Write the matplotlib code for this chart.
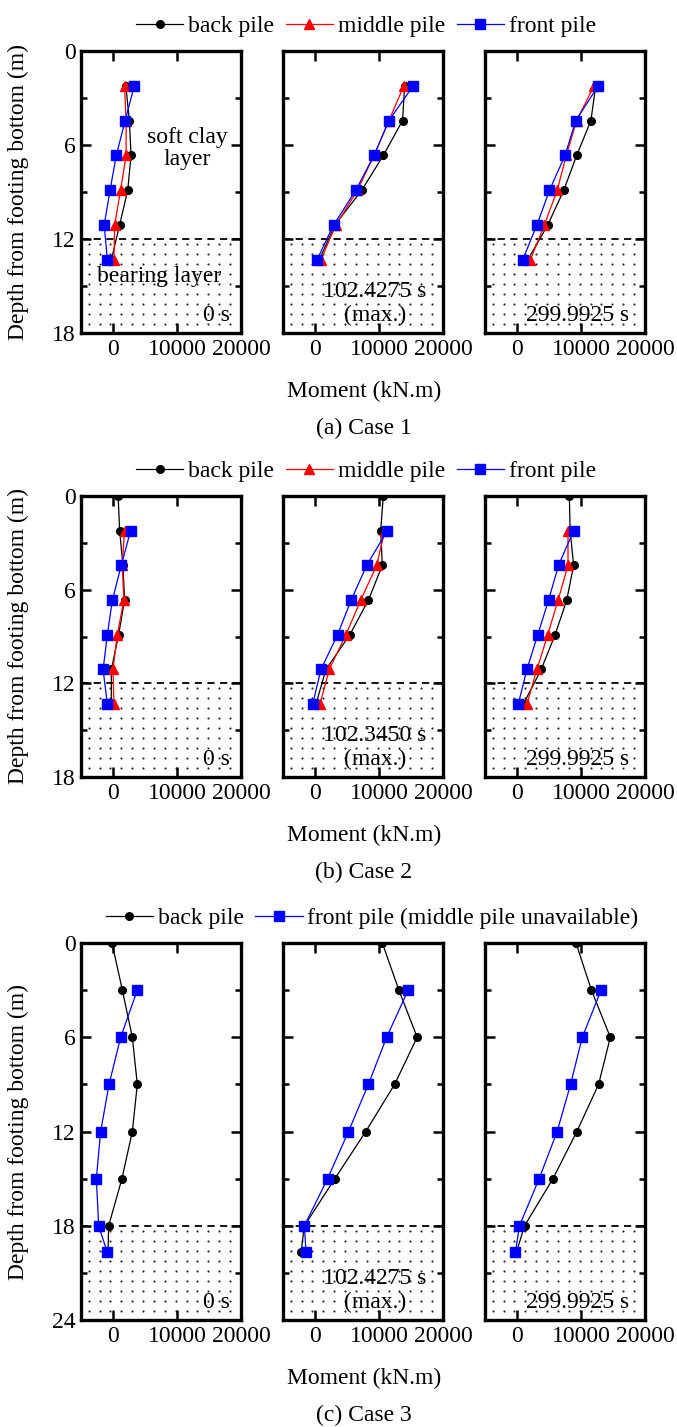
import numpy as np
import matplotlib
matplotlib.use("Agg")
import matplotlib.pyplot as plt
from matplotlib.ticker import MultipleLocator

plt.rcParams["font.family"] = "Liberation Serif"

nan = np.nan

# depths of the gauges along the piles (m)
depth_12 = [0, 2.22, 4.44, 6.67, 8.89, 11.11, 13.33]
depth_3 = [0, 3, 6, 9, 12, 15, 18, 19.7]

times_1 = ["0 s", "102.4275 s\n(max.)", "299.9925 s"]
times_2 = ["0 s", "102.3450 s\n(max.)", "299.9925 s"]
times_3 = ["0 s", "102.4275 s\n(max.)", "299.9925 s"]

# bending moment (kN.m), one row per time instant
c1_back = [[nan, 2000, 2560, 2820, 2300, 1030, -260],
           [nan, 14000, 13680, 10670, 7300, 3100, 670],
           [nan, 12300, 11550, 9320, 7300, 4800, 1690]]
c1_middle = [[nan, 1800, 2050, 2050, 1180, 260, 150],
             [nan, 13890, 11550, 9220, 6630, 3260, 930],
             [nan, 12030, 9320, 7700, 6280, 4260, 2100]]
c1_front = [[nan, 3330, 1900, 510, -460, -1380, -870],
            [nan, 15340, 11550, 9220, 6370, 2900, 310],
            [nan, 12700, 9190, 7500, 5070, 3110, 880]]

c2_back = [[800, 1040, 1550, 1810, 880, -260, -260],
           [10670, 10260, 10520, 8340, 5440, 1710, 150],
           [8180, 8300, 8850, 7770, 5950, 3780, 1000]]
c2_middle = [[nan, 1800, 1450, 1700, 670, 0, 150],
             [nan, 10900, 9640, 7150, 4820, 2230, 780],
             [nan, 7970, 7970, 6420, 4800, 3110, 1550]]
c2_front = [[nan, 2750, 1300, -100, -880, -1550, -880],
            [nan, 11300, 8080, 5650, 3520, 930, -360],
            [nan, 8850, 6490, 4930, 3240, 1550, 200]]

c3_back = [[-160, 1460, 3020, 3800, 3020, 1400, -680, -780],
           [10520, 13110, 15960, 12440, 7930, 3110, -1660, -2180],
           [9220, 11630, 14580, 12750, 9350, 5620, 1180, -100]]
c3_front = [[nan, 3800, 1200, -620, -1930, -2600, -2240, -890],
            [nan, 14560, 11190, 8340, 5230, 1970, -1660, -1400],
            [nan, 13140, 10200, 8370, 6270, 3460, 390, -260]]

W, H = 677, 1427
FS = 17
fig = plt.figure(figsize=(W / 100, H / 100), dpi=100)


def px_axes(left, top, width, height):
    return fig.add_axes([left / W, 1 - (top + height) / H, width / W, height / H])


def stipple(ax, y0, y1, height_px):
    """Dot pattern for the bearing layer, roughly 11 x 10 px spacing."""
    m_per_px = y1 / height_px
    xs = np.arange(-3800, 20000, 1700)
    ys = np.arange(y0 + 5 * m_per_px, y1, 10 * m_per_px)
    gx, gy = np.meshgrid(xs, ys)
    ax.scatter(gx.ravel(), gy.ravel(), s=2.4, color="0.15", linewidths=0,
               zorder=0)


styles = {
    "back": dict(color="black", marker="o", markersize=5.5, lw=0.9),
    "middle": dict(color="red", marker="^", markersize=6.5, lw=0.9),
    "front": dict(color="blue", marker="s", markersize=7, lw=0.9),
}
labels = {"back": "back pile", "middle": "middle pile", "front": "front pile"}

cases = [
    dict(top=51, height=282, ymax=18, soil=12, depth=depth_12, times=times_1,
         series={"back": c1_back, "middle": c1_middle, "front": c1_front},
         caption="(a) Case 1", legend_x=366),
    dict(top=496, height=281, ymax=18, soil=12, depth=depth_12, times=times_2,
         series={"back": c2_back, "middle": c2_middle, "front": c2_front},
         caption="(b) Case 2", legend_x=366),
    dict(top=943, height=377, ymax=24, soil=18, depth=depth_3, times=times_3,
         series={"back": c3_back, "front": c3_front},
         caption="(c) Case 3", legend_x=372),
]
lefts = [81, 283, 485]
panel_w = 160

for ci, case in enumerate(cases):
    handles = []
    for pi, left in enumerate(lefts):
        ax = px_axes(left, case["top"], panel_w, case["height"])
        ax.set_xlim(-5000, 20000)
        ax.set_ylim(case["ymax"], 0)

        # bearing layer: stippled zone below the dashed boundary
        stipple(ax, case["soil"], case["ymax"], case["height"])
        ax.axhline(case["soil"], color="black", ls=(0, (4, 3)), lw=1.3, zorder=1)

        for name, values in case["series"].items():
            ln, = ax.plot(values[pi], case["depth"], label=labels[name],
                          zorder=3, **styles[name])
            if pi == 0:
                handles.append(ln)

        ax.set_xticks([0, 10000, 20000])
        ax.yaxis.set_major_locator(MultipleLocator(6))
        ax.yaxis.set_minor_locator(MultipleLocator(3))
        ax.tick_params(which="both", direction="in", top=True, right=True,
                       width=1.8, labelsize=FS, pad=4)
        ax.tick_params(which="major", length=7)
        ax.tick_params(which="minor", length=4)
        ax.tick_params(axis="x", which="minor", length=0)
        if pi > 0:
            ax.tick_params(labelleft=False)
        for sp in ax.spines.values():
            sp.set_linewidth(2.4)

        # time stamp of the snapshot
        t_text = case["times"][pi]
        if pi == 0:
            ax.annotate(t_text, xy=(18300, 0), xycoords=("data", "axes fraction"),
                        xytext=(0, 7), textcoords="offset pixels",
                        ha="right", va="bottom", fontsize=FS)
        else:
            ax.annotate(t_text, xy=(9400, 0), xycoords=("data", "axes fraction"),
                        xytext=(0, 7), textcoords="offset pixels",
                        ha="center", va="bottom", fontsize=FS, linespacing=1.2)

        if ci == 0 and pi == 0:
            ax.text(11600, 6.2, "soft clay\nlayer", ha="center", va="center",
                    fontsize=FS, linespacing=1.05)
            ax.text(7200, 14.4, "bearing layer", ha="center", va="center",
                    fontsize=FS)

    bottom = case["top"] + case["height"]
    mid = case["top"] + case["height"] / 2
    fig.text(18 / W, 1 - mid / H, "Depth from footing bottom (m)", rotation=90,
             ha="center", va="center", fontsize=FS)
    fig.text(364 / W, 1 - (bottom + 58) / H, "Moment (kN.m)",
             ha="center", va="center", fontsize=FS)
    fig.text(364 / W, 1 - (bottom + 95) / H, case["caption"],
             ha="center", va="center", fontsize=FS)

    leg_labels = [labels[n] for n in case["series"]]
    if ci == 2:
        leg_labels[-1] = "front pile (middle pile unavailable)"
    fig.legend(handles, leg_labels, loc="center", ncol=len(handles),
               bbox_to_anchor=(case["legend_x"] / W, 1 - (case["top"] - 25) / H),
               frameon=False, fontsize=FS, handlelength=2.0, handletextpad=0.2,
               columnspacing=0.5, borderpad=0)

fig.savefig("out.png", dpi=100)
